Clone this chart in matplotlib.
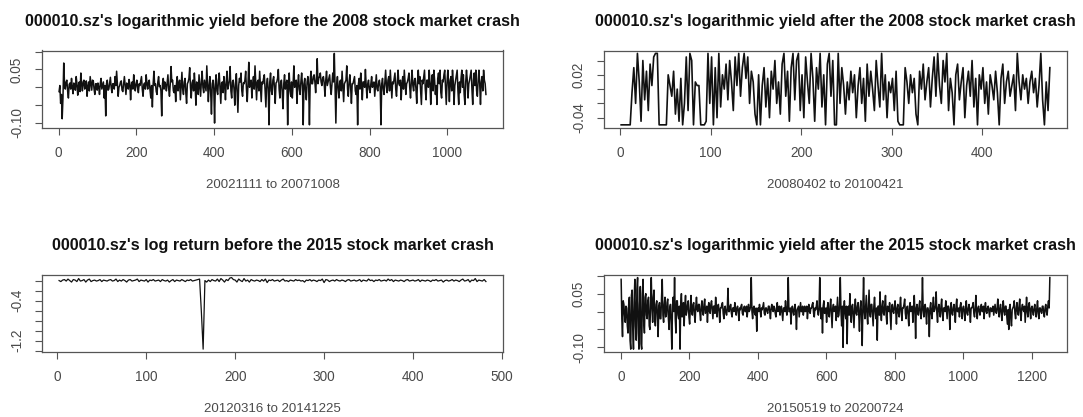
import numpy as np
import matplotlib
matplotlib.use('Agg')
import matplotlib.pyplot as plt

plt.rcParams['font.family'] = ['Liberation Sans', 'DejaVu Sans']

# log returns, every 2nd day (units of 0.001)
before_2008 = [
    -12, 5, -45, -20, -88, -30, 68, 10, -5, 15, 20, -10, -30, 8, 12, -5, 25, 0, -18, 12, 5, -8, 30, 10, -22, 5, 15, -12, 40, 8, -10, 15, 20, -5, 5, 18, -25, 2, 15, -10, 30, 12, -8, 20, 18, -5, -20, 10, 10, -8,
    12, 0, -20, 10, 25, -5, 5, 15, -30, 5, -80, 10, 20, -8, -5, 12, 28, 0, -15, 10, 10, -5, 30, 5, 45, 10, -25, 0, 5, 15, 18, -8, -12, 10, 30, 5, -20, 12, 8, -5, 22, 10, -35, 5, 15, -5, 35, 10, -10, 8,
    20, 0, -15, 10, 5, 18, 30, -5, -25, 8, 12, -5, 35, 10, -5, 15, 20, -8, -30, 5, -55, 10, 45, 5, 10, -12, -20, 15, 30, 2, 5, -10, -80, 10, 25, -5, 15, 8, -10, 12, 35, -5, -25, 10, 58, 15, 20, -10, -15, 5,
    -40, 10, 30, -10, 10, 20, -35, 5, 42, -5, -20, 15, 25, -15, -45, 10, 15, 25, 55, 0, -30, 12, 20, -10, 40, 5, -50, 15, 10, -20, 35, 5, -25, 15, 45, 0, -15, 20, 5, -10, 60, 10, -40, 5, 30, -15, -75, 10, 20, -5,
    -100, 10, 35, -10, -20, 20, 40, 0, -45, 12, 15, -15, 30, 5, -35, 15, 45, -5, 5, 20, 58, -10, -30, 15, 20, -5, -50, 10, 38, -15, -70, 5, 25, 15, 40, -10, -25, 12, 10, 20, 45, -5, -40, 10, 70, 0, 15, 20, -30, 10,
    30, -5, 60, 10, -35, 15, 20, -10, 45, 0, -40, 15, 10, 25, 35, -10, -55, 10, 25, -5, -105, 15, 40, -10, -20, 20, 30, 0, -45, 12, 15, 25, 50, -5, -30, 15, 20, -15, -60, 10, 35, -5, 10, 20, -105, 5, 40, -10, -25, 15,
    -30, 10, 60, 0, 15, 20, -45, 10, 35, -5, -20, 15, 40, 5, -105, 10, 25, -10, -35, 15, 30, 5, -105, 20, 45, 10, 10, 30, 35, 15, -15, 25, 80, 10, 25, 30, 40, 15, 5, 25, 30, 10, -25, 20, 45, 5, 15, 25, 35, 0,
    -20, 10, 40, 15, 95, 0, -100, 10, 30, -5, -30, 15, 20, -10, 45, 5, -40, 10, 15, 20, 60, -5, -25, 15, 35, 0, -45, 10, 10, 20, 30, -10, -20, 5, -105, 10, 25, -5, 40, 10, -35, 15, 15, 0, 50, 5, -30, 10, 20, -5,
    -15, 10, 30, 0, 10, 15, -25, 5, 35, -5, -10, 12, 20, 0, -105, 10, 25, -5, -20, 15, 48, 5, -15, 20, 30, -10, 48, 10, -30, 15, 10, 25, 40, -5, -25, 15, 48, 10, 5, 20, -35, 10, 30, -5, 48, 15, -20, 10, 15, 25,
    40, 0, -30, 15, 48, 5, -10, 20, 25, -5, -45, 15, 48, 10, 30, -10, -48, 20, 10, 30, 48, -5, -35, 20, 20, 0, 48, 15, -48, 10, 35, -10, 48, 20, -20, 5, -48, 25, 40, 10, 48, -15, -30, 20, 15, 35, 48, 0, -48, 15,
    48, 10, -40, 20, 30, -10, 48, 15, -48, 5, 20, 35, 48, -10, -48, 15, -15, 25, 48, 0, 35, -20, -48, 15, 48, 20, -30, 10, 20, 35, 48, -5, -48, 20, 40, 5, 48, -10, -25, 20, 48, 10, -48, 15, 30, -10, 48, 20, 10, -20,
]

# every 2nd day (units of 0.001)
after_2008 = [
    -50, -50, -50, -50, -50, -50, -5, 30, -20, 50, 10, -45, 40, -15, 25, -30, 35, 5, 45, 50, 50, -50, -50, -50, -50,
    -50, 20, 5, -10, 25, -35, 0, -45, 15, -50, -20, 45, -30, 50, 40, -50, 10, 5, 5, -50, -50, -50, -45, 50, -20,
    45, -50, 30, -40, 50, -25, 20, 0, 35, -15, 40, 10, -30, 45, 5, 50, -10, 30, 50, 15, 45, -20, 25, 10, -35,
    -50, 20, -50, 5, 30, -25, 15, -40, 25, 0, 40, -20, 10, -35, 35, 50, -10, 25, -45, 30, 50, -15, 40, 50, -30,
    20, -40, 45, 10, -20, 50, 15, -45, 30, 0, 50, -25, 20, -50, 35, 50, -10, 40, -50, -50, 50, -20, 30, 5, -35,
    10, -15, 25, -5, 20, -40, 5, 30, -20, 15, -45, 35, -10, 25, 0, -30, 40, 5, -25, 50, -15, 20, -40, 10, -5,
    15, -30, 25, -45, -50, -50, -50, 30, 10, -20, 20, -5, 15, -35, -50, 25, 0, 35, -15, 10, 30, -25, 15, 45, -10,
    50, 5, -20, 40, 10, 50, -30, 15, -5, -50, 20, 35, -15, 10, 30, -40, 5, 25, -10, 40, -25, 15, -50, 20, 0,
    30, -20, 10, -35, 20, 5, -15, 25, -5, -50, 15, 35, -20, 10, 25, -10, 5, 20, -30, 50, 10, -15, 20, 0, 15,
    -20, 10, 25, -5, 15, -25, 5, 50, -15, -50, 10, -30, 30,
]

# every 2nd day (units of 0.01)
before_2015 = [
    0, -2, 1, 2, -1, 3, 0, -3, 2, 1, -2, 4, -1, 0, 2, -3, 1, 3, -2, 0,
    1, -1, 0, 2, -2, 1, 0, -1, 1, 2, -1, 0, 3, -2, 1, -1, 2, 0, -3, 1,
    2, -1, 0, 1, 3, -2, 1, 0, -1, 2, -3, 1, 0, 2, -1, 0, 1, -2, 2, 0,
    -1, 1, -3, 0, 2, -2, 1, 0, -1, 2, 0, -2, 1, 0, 2, -1, 0, 1, 2, 3,
    -62, -137, 0, -3, 1, -2, 2, 0, -1, 3, -2, 4, 1, -3, 2, 0, 5, 6, 2, 1,
    -3, 3, 0, -2, 4, -1, 1, -3, 2, 0, -1, 1, 0, -2, 2, -1, 3, -4, 1, 0,
    2, -1, 0, 1, -2, 1, 3, -1, 0, -2, 1, 0, -1, 2, 0, 1, -1, 0, -3, 1,
    0, 2, -1, 1, 0, -2, 1, 0, 3, -4, 2, 1, -2, 0, 1, -1, 2, 0, -1, 1,
    0, -2, 1, 2, -1, 0, 1, -1, 0, 2, -2, 1, 0, -1, 3, 0, 1, -2, 1, 0,
    2, -1, 0, 1, -1, 3, 0, 2, -2, 1, 0, -1, 1, 0, -2, 1, 2, -1, 0, 1,
    -1, 0, 2, -2, 1, 0, -1, 1, 0, -2, 1, 0, 2, -1, 0, 1, -3, 0, 1, -1,
    0, 2, -1, 1, 0, -2, 1, 3, -1, 0, 2, -3, 1, 0, 4, -2, 1, 0, -1, 2,
    -2,
]

# every 2nd day (units of 0.001)
after_2015 = [
    90, -20, -70, 30, 20, -10, -30, 15, 10, -40, -60, 20, 40, -80, -105, 45, 60, -50, -105, 30, 90, -40, -80, 60, 95, -60, -105, 20, 70, -90, -105, 50, 90, -30, -60, 40, 50, -10, -20, 30, 40, -40, -50, 20, 95, 10, -30, 40, 60, -20,
    -40, 20, 30, -10, -70, 15, 25, -20, -20, 40, 90, -10, -30, 20, 40, -15, -10, 25, 35, -20, -50, 10, 20, -30, -105, 15, 40, 0, 95, -20, -60, 30, 30, -10, -20, 15, -105, 20, 50, -15, 10, 25, -40, 15, 45, -10, 0, 20, 30, -15,
    -35, 10, 45, 0, -10, 20, 25, -10, -30, 15, 40, 5, 0, 20, 20, -5, -25, 15, 30, 0, -10, 20, 35, -5, 5, 15, -30, 10, 25, 0, -5, 20, 30, 5, -20, 15, 15, -5, 40, 10, -15, 15, 20, 0, -30, 10, 10, 20, 25, -5,
    -20, 10, 15, -5, -10, 10, 65, 0, 0, 15, 20, -5, -15, 10, 10, 0, 25, 5, -10, 10, 15, 0, -25, 10, 5, 15, 20, -5, -10, 10, 15, 0, 0, 15, -15, 5, 20, 0, 5, 15, 95, 0, -20, 10, 15, -5, -10, 10, -55, 5,
    10, 0, 20, 5, -15, 10, 5, 15, 25, -5, -10, 10, 10, 0, -5, 15, 15, 0, -20, 10, 20, 5, 0, 15, 10, -5, -15, 10, 25, 0, 5, 15, -10, 5, 15, -5, -25, 10, 10, 0, 30, 5, -10, 15, 95, 0, 0, 10, -35, 5,
    15, 0, -10, 10, 20, -5, -50, 5, 10, 15, -15, 5, 25, 0, 0, 15, -10, 5, 15, 0, 5, 15, -20, 5, 20, 0, -5, 10, 10, 20, 25, -5, -15, 10, 5, 15, 30, 0, -10, 10, 95, 5, -20, 10, -60, 15, 30, -5, 0, 10,
    -30, 10, 25, -10, -15, 15, 35, -5, -45, 10, 20, 0, 5, 15, -25, 10, 40, -15, -10, 20, 95, 0, -40, 15, -100, 10, 30, -5, -20, 15, -90, 10, 15, -10, 50, 0, -30, 15, 20, -15, -45, 10, 35, -5, -10, 15, 25, -10, -55, 10,
    30, -10, -95, 15, 95, 0, -20, 15, 45, -10, -35, 10, 60, -5, -15, 20, 20, -10, -40, 15, 40, 0, -20, 10, -80, 15, 15, -10, 55, 0, -25, 15, 30, -5, -10, 20, 45, -10, -35, 15, 10, 0, 25, -10, -50, 15, 20, 0, -5, 15,
    30, 0, -35, 10, 20, -5, -15, 15, 40, 0, -25, 10, 10, 20, 35, -5, -20, 10, 15, -10, -40, 15, 25, 0, 5, 15, -30, 10, 45, 0, -75, 10, 20, 0, -10, 15, 30, -5, -20, 10, 95, 5, -15, 15, 20, -5, -35, 10, 10, 0,
    -70, 10, 25, -5, -20, 15, 40, 0, 5, 15, 55, -5, -30, 10, 20, 0, -15, 15, 35, -5, -25, 10, 10, 0, 30, 5, -20, 15, 15, 0, -50, 10, 25, -5, -10, 10, 20, 0, -30, 15, 35, 0, 0, 10, -15, 15, 25, 0, -20, 10,
    15, 0, -25, 10, 30, -5, -10, 10, 20, 0, -30, 10, 10, 15, 25, -5, -15, 10, 45, 0, -20, 10, 15, 0, -10, 10, 20, 0, 0, 15, -20, 10, 25, 0, -5, 10, 15, 0, -15, 10, 10, 0, 5, 15, -10, 5, 20, 0, -5, 10,
    35, 0, -15, 10, 20, -5, -25, 10, 30, 0, -10, 15, 15, -10, -35, 5, -50, 10, 20, -20, -40, 5, 10, 15, 30, -5, -20, 10, 25, 0, -10, 15, 35, -5, -25, 10, 20, 5, 0, 15, -30, 5, 40, 0, -15, 15, 25, 0, -20, 10,
    15, 0, -10, 10, 20, 0, -15, 10, 30, -5, -20, 10, 10, 0, -5, 15, 15, -5, -15, 10, 20, 0, -10, 15, 30, 10, 95,
]

titles = [
    "000010.sz's logarithmic yield before the 2008 stock market crash",
    "000010.sz's logarithmic yield after the 2008 stock market crash",
    "000010.sz's log return before the 2015 stock market crash",
    "000010.sz's logarithmic yield after the 2015 stock market crash",
]
xlabels = ["20021111 to 20071008", "20080402 to 20100421",
           "20120316 to 20141225", "20150519 to 20200724"]

W, H = 1083, 417
fig = plt.figure(figsize=(W / 100, H / 100), dpi=100)
TXT = '#4a4a4a'


def rlim(v):
    lo, hi = min(v), max(v)
    d = 0.04 * (hi - lo)
    return lo - d, hi + d


def panel(box, x, y, title, xlabel, xticks, yticks, ylabels, lw):
    l, t, r, b = box
    ax = fig.add_axes([l / W, 1 - b / H, (r - l) / W, (b - t) / H])
    ax.plot(x, y, color='#111111', lw=lw)
    ax.set_xlim(rlim(x))
    ax.set_ylim(rlim(y))
    ax.set_xticks(xticks)
    ax.set_yticks(yticks, ylabels)
    ax.tick_params(direction='out', length=5, width=0.8, color='#555555',
                   labelcolor=TXT, labelsize=9.8, pad=8)
    for lab in ax.get_yticklabels():
        lab.set_rotation(90)
        lab.set_va('center')
    for s in ax.spines.values():
        s.set_color('#555555')
        s.set_linewidth(0.9)
    ax.set_title(title, fontsize=11.6, fontweight='bold', color='#111111', pad=17.5)
    ax.set_xlabel(xlabel, fontsize=9.5, color=TXT)
    ax.xaxis.set_label_coords(0.5, -57.0 / (b - t))
    ax.xaxis.label.set_va('center')
    return ax


x1 = 1 + 2 * np.arange(len(before_2008))
x2 = 1 + 2 * np.arange(len(after_2008))
x3 = 2 + 2 * np.arange(len(before_2015))
x4 = 1 + 2 * np.arange(len(after_2015))

panel((42, 50.5, 503, 127.7), x1, np.array(before_2008) / 1000, titles[0], xlabels[0],
      range(0, 1001, 200), [-0.10, -0.05, 0.0, 0.05, 0.10], ['-0.10', '', '', '0.05', ''], 1.1)
panel((604, 50.5, 1067, 127.7), x2, np.array(after_2008) / 1000, titles[1], xlabels[1],
      range(0, 401, 100), [-0.04, -0.02, 0.0, 0.02, 0.04], ['-0.04', '', '', '0.02', ''], 1.2)
panel((42, 274.7, 503, 352), x3, np.array(before_2015) / 100, titles[2], xlabels[2],
      range(0, 501, 100), [-1.4, -1.2, -1.0, -0.8, -0.6, -0.4, -0.2, 0.0],
      ['', '-1.2', '', '', '', '-0.4', '', ''], 0.9)
panel((604, 274.7, 1067, 352), x4, np.array(after_2015) / 1000, titles[3], xlabels[3],
      range(0, 1201, 200), [-0.10, -0.05, 0.0, 0.05, 0.10], ['-0.10', '', '', '0.05', ''], 1.1)

fig.savefig('out.png', dpi=100)
